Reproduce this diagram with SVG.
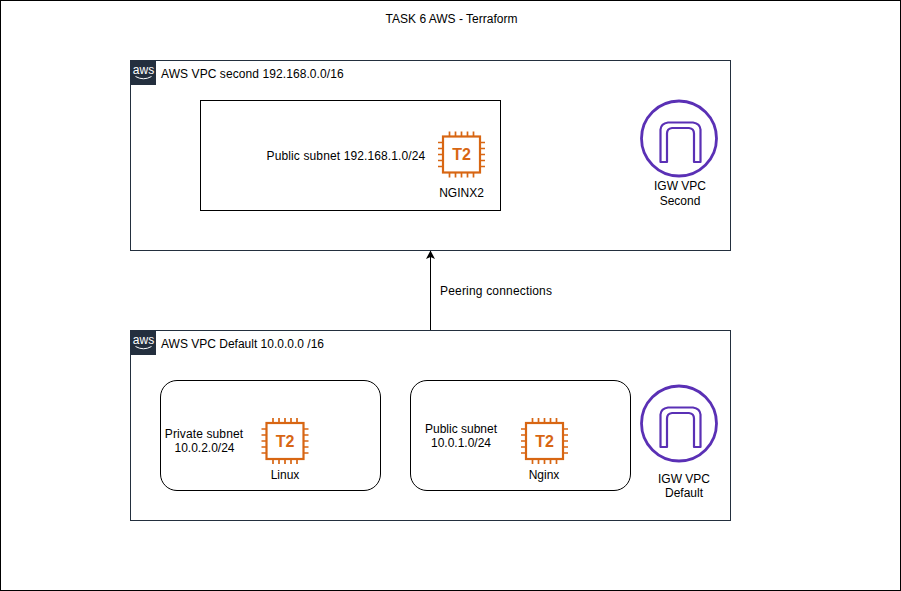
<svg xmlns="http://www.w3.org/2000/svg" width="901" height="591" viewBox="0 0 901 591">
<style>
text{font-family:"Liberation Sans",Arial,sans-serif;font-size:12px;fill:#000;letter-spacing:.12px}
.m{text-anchor:middle}
.n{letter-spacing:0}
.box{fill:#fff;stroke:#232f3e;stroke-width:1}
.sub{fill:#fff;stroke:#000;stroke-width:1}
.igw{fill:none;stroke:#5a30b5}
.chip{fill:none;stroke:#d86613;stroke-width:2.2}
.t2{font-size:16px;font-weight:bold;fill:#d86613;text-anchor:middle;letter-spacing:0}
.awsw{font-size:12px;fill:#fff;text-anchor:middle;letter-spacing:0}
</style>
<defs>
<g id="aws">
<rect width="25" height="25" fill="#232f3e"/>
<text class="awsw" x="12.500" y="13.500">aws</text>
<path d="M4.500 16.500Q12.500 21 20.500 16.500" fill="none" stroke="#fff" stroke-width="1"/>
</g>
<g id="chip">
<rect class="chip" x="-18.500" y="-18" width="37" height="36"/>
<path class="chip" style="stroke-width:1.700" d="M-12-18v-5M-6-18v-5M0-18v-5M6-18v-5M12-18v-5M-12 18v5M-6 18v5M0 18v5M6 18v5M12 18v5M-18.500-12h-5M-18.500-6h-5M-18.500 0h-5M-18.500 6h-5M-18.500 12h-5M18.500-12h5M18.500-6h5M18.500 0h5M18.500 6h5M18.500 12h5"/>
<text class="t2" x="0" y="5.500">T2</text>
</g>
<g id="igw">
<circle class="igw" stroke-width="2.800" r="37.500"/>
<path class="igw" stroke-width="2.200" d="M-18.500 23.500V-9Q-18-15-11-16H14Q21-15 21.500-9V23.500H15V-5Q15-10 10-10.500H-7Q-12-10-12-5V23.500Z" stroke-linejoin="round"/>
</g>
<marker id="arr" markerWidth="9" markerHeight="10" refX="8" refY="4.500" orient="auto" markerUnits="userSpaceOnUse"><path d="M0 0L8.500 4.500L0 9L2 4.500Z" fill="#000"/></marker>
</defs>
<rect width="901" height="591" fill="#fff"/>
<rect id="frame" x="0.500" y="0.500" width="900" height="590" fill="none" stroke="#000"/>
<text id="title" class="m n" x="451.500" y="23">TASK 6 AWS - Terraform</text>
<g id="vpc-second">
<rect class="box" x="130.500" y="60.500" width="600" height="190"/>
<use href="#aws" x="131" y="60"/>
<text x="161" y="78" style="letter-spacing:.08px">AWS VPC second 192.168.0.0/16</text>
</g>
<g id="subnet-public-second">
<rect class="sub" x="200.500" y="100.500" width="300" height="110"/>
<text class="m" x="346" y="160">Public subnet 192.168.1.0/24</text>
</g>
<g id="nginx2">
<use href="#chip" x="461.500" y="154.500"/>
<text class="m n" x="461.500" y="197">NGINX2</text>
</g>
<g id="igw-second">
<use href="#igw" x="679" y="138.500"/>
<text class="m n" x="680" y="190">IGW VPC</text>
<text class="m n" x="680" y="205">Second</text>
</g>
<g id="vpc-default">
<rect class="box" x="130.500" y="330.500" width="600" height="190"/>
<use href="#aws" x="131" y="330"/>
<text class="n" x="161" y="348">AWS VPC Default 10.0.0.0 /16</text>
</g>
<g id="subnet-private">
<rect class="sub" x="160.500" y="380.500" width="220" height="110" rx="16.500"/>
<text class="m" x="204" y="438">Private subnet</text>
<text class="m n" x="204.500" y="452">10.0.2.0/24</text>
</g>
<g id="linux">
<use href="#chip" x="285" y="441"/>
<text class="m n" x="285" y="479">Linux</text>
</g>
<g id="subnet-public">
<rect class="sub" x="410.500" y="380.500" width="220" height="110" rx="16.500"/>
<text class="m n" x="461" y="433">Public subnet</text>
<text class="m n" x="461" y="447">10.0.1.0/24</text>
</g>
<g id="nginx">
<use href="#chip" x="544.500" y="441"/>
<text class="m n" x="544" y="479">Nginx</text>
</g>
<g id="igw-default">
<use href="#igw" x="679" y="423.500"/>
<text class="m n" x="684" y="483">IGW VPC</text>
<text class="m n" x="684" y="497">Default</text>
</g>
<g id="connectors">
<path d="M430.500 330V251" fill="none" stroke="#000" marker-end="url(#arr)"/>
<text x="440" y="295" style="letter-spacing:.18px">Peering connections</text>
</g>
</svg>
